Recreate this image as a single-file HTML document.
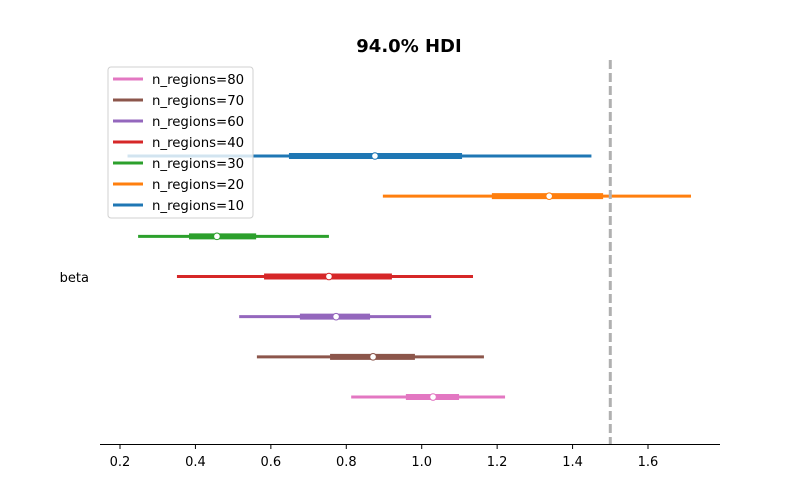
<!DOCTYPE html>
<html><head><meta charset="utf-8">
<style>
body{margin:0;background:#fff;}
svg{display:block;font-family:"DejaVu Sans","Liberation Sans",sans-serif;}
</style></head>
<body>
<svg id="chart" width="800" height="500" xmlns="http://www.w3.org/2000/svg">
<text x="409" y="52" text-anchor="middle" font-size="18" font-weight="bold">94.0% HDI</text>
<text x="89" y="282" text-anchor="end" font-size="13">beta</text>
<line x1="100" y1="444.5" x2="720" y2="444.5" stroke="#000" stroke-width="1"/>
<g id="ticks"></g>
<g id="marks"></g>
<line id="ref" y1="60" y2="444" stroke="#b0b0b0" stroke-width="3" stroke-dasharray="9,4"/>
<g id="legend"></g>
</svg>
<script>
const models = ["n_regions=10","n_regions=20","n_regions=30","n_regions=40","n_regions=60","n_regions=70","n_regions=80"];
const hdiLow = [0.22, 0.897, 0.248, 0.351, 0.516, 0.563, 0.813];
const hdiHigh = [1.45, 1.714, 0.754, 1.136, 1.025, 1.165, 1.221];
const iqrLow = [0.648, 1.186, 0.383, 0.582, 0.677, 0.757, 0.958];
const iqrHigh = [1.107, 1.481, 0.561, 0.921, 0.863, 0.982, 1.099];
const medians = [0.876, 1.338, 0.457, 0.754, 0.773, 0.871, 1.03];
const colors = ["#1f77b4","#ff7f0e","#2ca02c","#d62728","#9467bd","#8c564b","#e377c2"];
const tickValues = [0.2,0.4,0.6,0.8,1.0,1.2,1.4,1.6];
const tickLabels = ["0.2","0.4","0.6","0.8","1.0","1.2","1.4","1.6"];
const refValue = 1.5;

const NS="http://www.w3.org/2000/svg";
const xs = v => 120 + (v-0.2)*377.14;
const ys = i => 156 + i*40.17;
function mk(tag, attrs, parent){const e=document.createElementNS(NS,tag);for(const k in attrs)e.setAttribute(k,attrs[k]);parent.appendChild(e);return e;}

const ticks=document.getElementById('ticks');
tickValues.forEach((v,i)=>{
  const t=mk('line',{x1:xs(v),x2:xs(v),y1:444.5,y2:449,stroke:'#000'},ticks);
  
  
  const l=mk('text',{x:xs(v),y:466,'text-anchor':'middle','font-size':'13'},ticks);
  l.textContent=tickLabels[i];
  
  
});

const marks=document.getElementById('marks');
models.forEach((m,i)=>{
  const y=ys(i);
  const a=mk('line',{x1:xs(hdiLow[i]),x2:xs(hdiHigh[i]),y1:y,y2:y,stroke:colors[i],'stroke-width':3},marks);
  
  
  const b=mk('line',{x1:xs(iqrLow[i]),x2:xs(iqrHigh[i]),y1:y,y2:y,stroke:colors[i],'stroke-width':6},marks);
  
  
  const c=mk('circle',{cx:xs(medians[i]),cy:y,r:3.3,fill:'#fff',stroke:colors[i],'stroke-width':1},marks);
  
  
});

const ref=document.getElementById('ref');
ref.setAttribute('x1',xs(refValue));ref.setAttribute('x2',xs(refValue));

const lg=document.getElementById('legend');
const box=mk('rect',{x:108,y:67,width:145,height:151,rx:3,fill:'rgba(255,255,255,0.8)',stroke:'#d0d0d0'},lg);


for(let k=0;k<models.length;k++){
  const i=models.length-1-k;
  const y=79+k*21;
  const ln=mk('line',{x1:113,x2:143,y1:y,y2:y,stroke:colors[i],'stroke-width':3},lg);
  
  
  const tx=mk('text',{x:152,y:y+5,'font-size':'13.3'},lg);
  tx.textContent=models[i];
  
  
}
</script>
</body></html>
